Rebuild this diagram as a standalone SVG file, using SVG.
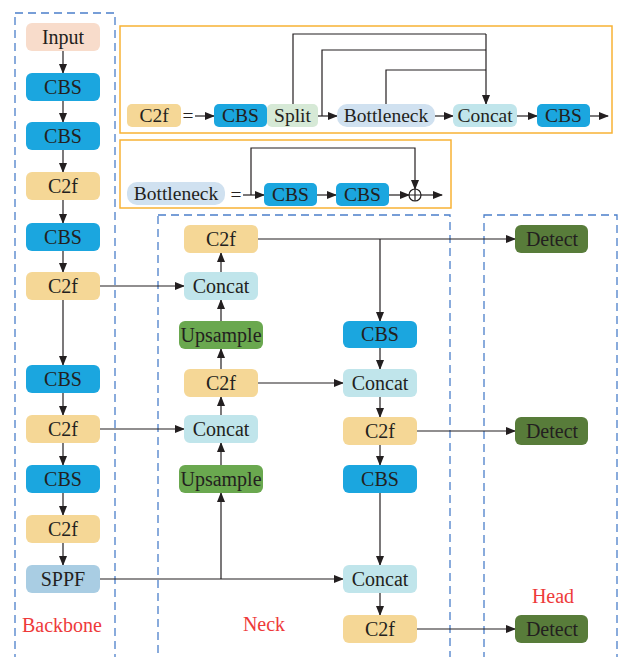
<svg xmlns="http://www.w3.org/2000/svg" width="620" height="657" viewBox="0 0 620 657">
<style>
text{font-family:"Liberation Serif","Times New Roman",serif;font-size:20px;fill:#231f20;text-anchor:middle;dominant-baseline:central}
.sm{font-size:19.5px}
.lbl{fill:#ee3a3a;font-size:20px}
.cbs{fill:#1ba6df}.c2f{fill:#f5d796}.inp{fill:#f8dccb}.cat{fill:#c0e5eb}.ups{fill:#6aa84f}.det{fill:#587c3a}.sppf{fill:#a9cde3}.spl{fill:#d6e9d6}.bot{fill:#d0e1f0}
.dash{fill:none;stroke:#4b7fca;stroke-width:1.3;stroke-dasharray:8 5}
.ob{fill:none;stroke:#f8b235;stroke-width:1.5}
.ln{fill:none;stroke:#231f20;stroke-width:1.2}
</style>
<defs>
<marker id="ah" markerWidth="10" markerHeight="8" refX="9" refY="4" orient="auto" markerUnits="userSpaceOnUse"><path d="M0,0L10,4L0,8z" fill="#231f20"/></marker>
</defs>
<rect width="620" height="657" fill="#fff"/>
<g id="frames">
<rect class="dash" x="15" y="13" width="100" height="660"/>
<rect class="dash" x="158" y="215" width="292" height="460"/>
<rect class="dash" x="484" y="215" width="133" height="460"/>
<rect class="ob" x="120" y="26" width="492" height="107"/>
<rect class="ob" x="120" y="140" width="331" height="68"/>
</g>
<g id="connectors">
<path class="ln" marker-end="url(#ah)" d="M63,51V73"/>
<path class="ln" marker-end="url(#ah)" d="M63,101V122"/>
<path class="ln" marker-end="url(#ah)" d="M63,150V172"/>
<path class="ln" marker-end="url(#ah)" d="M63,200V223"/>
<path class="ln" marker-end="url(#ah)" d="M63,251V272"/>
<path class="ln" marker-end="url(#ah)" d="M63,300V365"/>
<path class="ln" marker-end="url(#ah)" d="M63,393V415"/>
<path class="ln" marker-end="url(#ah)" d="M63,443V465"/>
<path class="ln" marker-end="url(#ah)" d="M63,493V515"/>
<path class="ln" marker-end="url(#ah)" d="M63,543V565"/>
<path class="ln" marker-end="url(#ah)" d="M100,286H184"/>
<path class="ln" marker-end="url(#ah)" d="M100,429H184"/>
<path class="ln" marker-end="url(#ah)" d="M100,579H343"/>
<path class="ln" marker-end="url(#ah)" d="M221,579V493"/>
<path class="ln" marker-end="url(#ah)" d="M221,465V443"/>
<path class="ln" marker-end="url(#ah)" d="M221,415V397"/>
<path class="ln" marker-end="url(#ah)" d="M221,369V349"/>
<path class="ln" marker-end="url(#ah)" d="M221,321V300"/>
<path class="ln" marker-end="url(#ah)" d="M221,272V253"/>
<path class="ln" marker-end="url(#ah)" d="M258,239H515"/>
<path class="ln" marker-end="url(#ah)" d="M380,239V321"/>
<path class="ln" marker-end="url(#ah)" d="M258,383H343"/>
<path class="ln" marker-end="url(#ah)" d="M380,348V369"/>
<path class="ln" marker-end="url(#ah)" d="M380,397V417"/>
<path class="ln" marker-end="url(#ah)" d="M417,431H515"/>
<path class="ln" marker-end="url(#ah)" d="M380,445V465"/>
<path class="ln" marker-end="url(#ah)" d="M380,493V565"/>
<path class="ln" marker-end="url(#ah)" d="M380,593V615"/>
<path class="ln" marker-end="url(#ah)" d="M417,629H515"/>
<path class="ln" marker-end="url(#ah)" d="M195,116H214"/>
<path class="ln" marker-end="url(#ah)" d="M318,116H337"/>
<path class="ln" marker-end="url(#ah)" d="M435,116H453"/>
<path class="ln" marker-end="url(#ah)" d="M517,116H537"/>
<path class="ln" marker-end="url(#ah)" d="M590,116H608"/>
<path class="ln" d="M293,104V34H486"/>
<path class="ln" d="M322,116V50H486"/>
<path class="ln" d="M386,104V70H486"/>
<path class="ln" marker-end="url(#ah)" d="M486,34V104"/>
<path class="ln" marker-end="url(#ah)" d="M243,195H264"/>
<path class="ln" marker-end="url(#ah)" d="M317,195H336"/>
<path class="ln" marker-end="url(#ah)" d="M389,195H409"/>
<path class="ln" marker-end="url(#ah)" d="M421,195H442"/>
<path class="ln" marker-end="url(#ah)" d="M251,195V148H415V189"/>
<circle class="ln" cx="415" cy="195" r="6"/>
<path class="ln" d="M409,195H421M415,189V201"/>
</g>
<g id="eq"><text class="sm" x="188" y="115">=</text><text class="sm" x="236" y="194">=</text></g>
<g id="b_input"><rect class="inp" x="26" y="23" width="74" height="28" rx="6"/><text x="63" y="37">Input</text></g>
<g id="b_cbs1"><rect class="cbs" x="26" y="73" width="74" height="28" rx="6"/><text x="63" y="87">CBS</text></g>
<g id="b_cbs2"><rect class="cbs" x="26" y="122" width="74" height="28" rx="6"/><text x="63" y="136">CBS</text></g>
<g id="b_c2f1"><rect class="c2f" x="26" y="172" width="74" height="28" rx="6"/><text x="63" y="186">C2f</text></g>
<g id="b_cbs3"><rect class="cbs" x="26" y="223" width="74" height="28" rx="6"/><text x="63" y="237">CBS</text></g>
<g id="b_c2f2"><rect class="c2f" x="26" y="272" width="74" height="28" rx="6"/><text x="63" y="286">C2f</text></g>
<g id="b_cbs4"><rect class="cbs" x="26" y="365" width="74" height="28" rx="6"/><text x="63" y="379">CBS</text></g>
<g id="b_c2f3"><rect class="c2f" x="26" y="415" width="74" height="28" rx="6"/><text x="63" y="429">C2f</text></g>
<g id="b_cbs5"><rect class="cbs" x="26" y="465" width="74" height="28" rx="6"/><text x="63" y="479">CBS</text></g>
<g id="b_c2f4"><rect class="c2f" x="26" y="515" width="74" height="28" rx="6"/><text x="63" y="529">C2f</text></g>
<g id="b_sppf"><rect class="sppf" x="26" y="565" width="74" height="28" rx="6"/><text x="63" y="579">SPPF</text></g>
<g id="n_c2f_a"><rect class="c2f" x="184" y="225" width="74" height="28" rx="6"/><text x="221" y="239">C2f</text></g>
<g id="n_cat_a"><rect class="cat" x="184" y="272" width="74" height="28" rx="6"/><text x="221" y="286">Concat</text></g>
<g id="n_ups_a"><rect class="ups" x="179" y="321" width="84" height="28" rx="6"/><text x="221" y="335">Upsample</text></g>
<g id="n_c2f_b"><rect class="c2f" x="184" y="369" width="74" height="28" rx="6"/><text x="221" y="383">C2f</text></g>
<g id="n_cat_b"><rect class="cat" x="184" y="415" width="74" height="28" rx="6"/><text x="221" y="429">Concat</text></g>
<g id="n_ups_b"><rect class="ups" x="179" y="465" width="84" height="28" rx="6"/><text x="221" y="479">Upsample</text></g>
<g id="n_cbs_c"><rect class="cbs" x="343" y="321" width="74" height="27" rx="6"/><text x="380" y="334">CBS</text></g>
<g id="n_cat_c"><rect class="cat" x="343" y="369" width="74" height="28" rx="6"/><text x="380" y="383">Concat</text></g>
<g id="n_c2f_c"><rect class="c2f" x="343" y="417" width="74" height="28" rx="6"/><text x="380" y="431">C2f</text></g>
<g id="n_cbs_d"><rect class="cbs" x="343" y="465" width="74" height="28" rx="6"/><text x="380" y="479">CBS</text></g>
<g id="n_cat_d"><rect class="cat" x="343" y="565" width="74" height="28" rx="6"/><text x="380" y="579">Concat</text></g>
<g id="n_c2f_d"><rect class="c2f" x="343" y="615" width="74" height="28" rx="6"/><text x="380" y="629">C2f</text></g>
<g id="h_det1"><rect class="det" x="515" y="225" width="73" height="28" rx="6"/><text x="552" y="239">Detect</text></g>
<g id="h_det2"><rect class="det" x="515" y="417" width="73" height="28" rx="6"/><text x="552" y="431">Detect</text></g>
<g id="h_det3"><rect class="det" x="515" y="615" width="73" height="28" rx="6"/><text x="552" y="629">Detect</text></g>
<g id="m_c2f"><rect class="c2f" x="127" y="104" width="54" height="23" rx="5"/><text class="sm" x="154" y="115">C2f</text></g>
<g id="m_cbs1"><rect class="cbs" x="214" y="104" width="53" height="23" rx="5"/><text class="sm" x="240.5" y="115">CBS</text></g>
<g id="m_split"><rect class="spl" x="267" y="104" width="51" height="23" rx="5"/><text class="sm" x="292.5" y="115">Split</text></g>
<g id="m_bott"><rect class="bot" x="337" y="104" width="98" height="23" rx="10"/><text class="sm" x="386" y="115">Bottleneck</text></g>
<g id="m_cat"><rect class="cat" x="453" y="104" width="64" height="23" rx="6"/><text class="sm" x="485" y="115">Concat</text></g>
<g id="m_cbs2"><rect class="cbs" x="537" y="104" width="53" height="23" rx="5"/><text class="sm" x="563.5" y="115">CBS</text></g>
<g id="k_bott"><rect class="bot" x="127" y="182" width="98" height="23" rx="10"/><text class="sm" x="176" y="193">Bottleneck</text></g>
<g id="k_cbs1"><rect class="cbs" x="264" y="183" width="53" height="23" rx="5"/><text class="sm" x="290.5" y="194">CBS</text></g>
<g id="k_cbs2"><rect class="cbs" x="336" y="183" width="53" height="23" rx="5"/><text class="sm" x="362.5" y="194">CBS</text></g>
<g id="labels">
<text class="lbl" x="62" y="625">Backbone</text>
<text class="lbl" x="264" y="624">Neck</text>
<text class="lbl" x="553" y="596">Head</text>
</g>
</svg>
